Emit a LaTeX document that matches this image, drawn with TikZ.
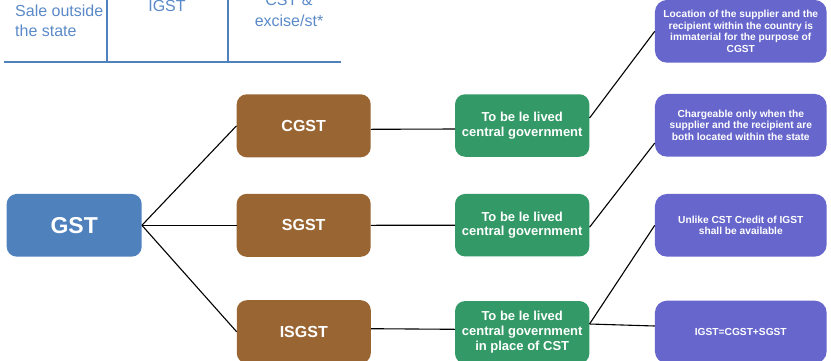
\documentclass[tikz,border=0pt]{standalone}
\usepackage{fontspec}
\setmainfont{Liberation Sans}
\definecolor{gstblue}{HTML}{4F81BD}
\definecolor{brownbox}{HTML}{996633}
\definecolor{greenbox}{HTML}{339966}
\definecolor{purplebox}{HTML}{6666CC}
\definecolor{tabline}{HTML}{4F81BD}
\definecolor{tabtext}{HTML}{5A8AC8}
\begin{document}
\begin{tikzpicture}[x=1pt,y=-1pt,
  box/.style={rounded corners=10pt, text=white, font=\bfseries, align=center, inner sep=0pt},
  gstbox/.style={box, fill=gstblue, minimum width=135pt, minimum height=62.7pt, font=\bfseries\fontsize{23}{26}\selectfont},
  taxbox/.style={box, fill=brownbox, minimum width=134pt, minimum height=63pt, font=\bfseries\fontsize{16}{18}\selectfont},
  levybox/.style={box, fill=greenbox, minimum width=134.3pt, minimum height=62.5pt, font=\bfseries\fontsize{13}{14.7}\selectfont},
  notebox/.style={box, rounded corners=12pt, fill=purplebox, minimum width=171.7pt, minimum height=62.7pt, font=\bfseries\fontsize{10.2}{11.7}\selectfont},
  conn/.style={draw=black, line width=1.1pt},
  tline/.style={draw=tabline, line width=2pt},
  ttext/.style={text=tabtext, font=\fontsize{16}{19}\selectfont, inner sep=0pt}
]
\useasboundingbox (0,0) rectangle (831,360);
\clip (0,0) rectangle (831,360);

% table fragment
\coordinate (h1) at (4,61.7);
\coordinate (h2) at (340.7,61.7);
\coordinate (v1a) at (106.7,-2);
\coordinate (v1b) at (106.7,61.7);
\coordinate (v2a) at (227.7,-2);
\coordinate (v2b) at (227.7,61.7);
\draw[tline] (h1) -- (h2);
\draw[tline] (v1a) -- (v1b);
\draw[tline] (v2a) -- (v2b);
\node[ttext, anchor=base west] (sa) at (15,16) {Sale outside};
\node[ttext, anchor=base west] (sb) at (15,36) {the state};
\node[ttext, anchor=base] (ig) at (167,11.5) {IGST};
\node[ttext, anchor=base] (ca) at (289,5) {CST \&};
\node[ttext, anchor=base] (cb) at (289,26) {excise/st*};

% boxes
\node[gstbox] (gst) at (74.2,225.3) {GST};
\node[taxbox] (cgst) at (303.7,125.8) {CGST};
\node[taxbox] (sgst) at (303.7,225.3) {SGST};
\node[taxbox] (isgst) at (303.8,331.7) {ISGST};
\node[levybox] (g1) at (522.2,125.5) {To be le lived\\central government};
\node[levybox] (g2) at (522.2,225.2) {To be le lived\\central government};
\node[levybox] (g3) at (522.2,332.3) {To be le lived\\central government\\in place of CST};
\node[notebox] (p1) at (740.8,31.3) {Location of the supplier and the\\recipient within the country is\\immaterial for the purpose of\\CGST};
\node[notebox] (p2) at (740.8,125.3) {Chargeable only when the\\supplier and the recipient are\\both located within the state};
\node[notebox] (p3) at (740.8,225.3) {Unlike CST Credit of IGST\\shall be available};
\node[notebox] (p4) at (740.8,332) {IGST=CGST+SGST};

% connectors
\draw[conn] (gst.east) -- (cgst.west);
\draw[conn] (gst.east) -- (sgst.west);
\draw[conn] (gst.east) -- (isgst.west);
\draw[conn] ([yshift=-3.5pt]cgst.east) -- ([yshift=-3.5pt]g1.west);
\draw[conn] (sgst.east) -- (g2.west);
\draw[conn] ([yshift=3pt]isgst.east) -- ([yshift=3pt]g3.west);
\draw[conn] ([yshift=7.5pt]g1.east) -- (p1.west);
\draw[conn] ([yshift=-2pt]g2.east) -- ([yshift=-17.7pt]p2.west);
\draw[conn] ([yshift=8.3pt]g3.east) -- (p3.west);
\draw[conn] ([yshift=8.3pt]g3.east) -- ([yshift=6pt]p4.west);
\end{tikzpicture}
\end{document}
